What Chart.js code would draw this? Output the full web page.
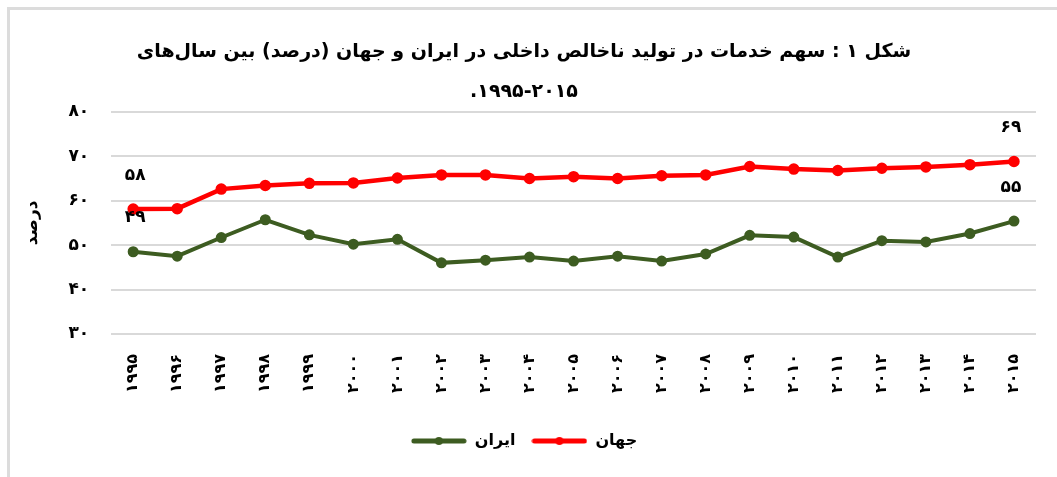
<!DOCTYPE html>
<html>
<head>
<meta charset="utf-8">
<script src="https://cdn.jsdelivr.net/npm/chart.js@4.4.1/dist/chart.umd.min.js"></script>
<style>
  html, body { margin: 0; padding: 0; background: #fff; }
  #wrap { width: 1057px; height: 477px; }
</style>
</head>
<body>
<div id="wrap"><canvas id="lineChart" dir="rtl"></canvas></div>
<script>
// years on the x axis (Persian digits)
const years = ['۱۹۹۵', '۱۹۹۶', '۱۹۹۷', '۱۹۹۸', '۱۹۹۹', '۲۰۰۰', '۲۰۰۱', '۲۰۰۲', '۲۰۰۳', '۲۰۰۴',
    '۲۰۰۵', '۲۰۰۶', '۲۰۰۷', '۲۰۰۸', '۲۰۰۹', '۲۰۱۰', '۲۰۱۱', '۲۰۱۲', '۲۰۱۳', '۲۰۱۴', '۲۰۱۵'];

// share of services in GDP (%)
const iranValues = [48.5, 47.5, 51.7, 55.7, 52.3, 50.2, 51.3, 46.0, 46.6, 47.3,
    46.4, 47.5, 46.4, 48.0, 52.2, 51.8, 47.3, 51.0, 50.7, 52.6, 55.4];
const worldValues = [58.1, 58.2, 62.6, 63.4, 63.9, 64.0, 65.1, 65.8, 65.8, 65.0,
    65.4, 65.0, 65.6, 65.8, 67.7, 67.1, 66.8, 67.3, 67.6, 68.1, 68.8];

// value labels shown only at first and last year
const iranLabels = ['۴۹', '۵۵'];
const worldLabels = ['۵۸', '۶۹'];

const yTicks = [30, 40, 50, 60, 70, 80];

const titleLines = ['شکل ۱ : سهم خدمات در تولید ناخالص داخلی در ایران و جهان (درصد) بین سال‌های', '۱۹۹۵-۲۰۱۵.'];

const FONT = "'DejaVu Sans', sans-serif";

function toFa(n) {
    return String(n).replace(/\d/g, d => '۰۱۲۳۴۵۶۷۸۹'[d]);
}

// small picture of a line with a dot, used as legend symbol
function legendIcon(color) {
    const c = document.createElement('canvas');
    c.width = 56;
    c.height = 10;
    const g = c.getContext('2d');
    g.strokeStyle = color;
    g.lineWidth = 5;
    g.lineCap = 'round';
    g.beginPath();
    g.moveTo(3, 5);
    g.lineTo(53, 5);
    g.stroke();
    g.fillStyle = color;
    g.beginPath();
    g.arc(28, 5, 4, 0, Math.PI * 2);
    g.fill();
    return c;
}

// frame lines at the top and left of the picture
const framePlugin = {
    id: 'frame',
    beforeDraw(chart) {
        const ctx = chart.ctx;
        ctx.save();
        ctx.fillStyle = '#fff';
        ctx.fillRect(0, 0, chart.width, chart.height);
        ctx.strokeStyle = '#dcdcdc';
        ctx.lineWidth = 3;
        ctx.beginPath();
        ctx.moveTo(8.5, chart.height);
        ctx.lineTo(8.5, 8.5);
        ctx.lineTo(chart.width, 8.5);
        ctx.stroke();
        ctx.restore();
    }
};

// labels above the first and last point of each line
const endLabels = {
    id: 'endLabels',
    afterDatasetsDraw(chart) {
        const ctx = chart.ctx;
        ctx.save();
        ctx.font = 'bold 17px ' + FONT;
        ctx.fillStyle = '#000';
        ctx.textAlign = 'center';
        ctx.textBaseline = 'middle';
        chart.data.datasets.forEach((ds, i) => {
            const meta = chart.getDatasetMeta(i);
            const pts = [meta.data[0], meta.data[meta.data.length - 1]];
            pts.forEach((p, k) => {
                ctx.fillText(ds.endLabels[k], p.x + (k === 0 ? 2 : -3), p.y - 34);
            });
        });
        ctx.restore();
    }
};

const ctx = document.getElementById('lineChart').getContext('2d');

const lineChart = new Chart(ctx, {
    type: 'line',
    data: {
        labels: years,
        datasets: [{
            label: 'ایران',
            data: iranValues,
            endLabels: iranLabels,
            borderColor: '#3d5c21',
            backgroundColor: '#3d5c21',
            borderWidth: 4,
            pointRadius: 3.5,
            pointHoverRadius: 3.5,
            tension: 0
        }, {
            label: 'جهان',
            data: worldValues,
            endLabels: worldLabels,
            borderColor: '#ff0000',
            backgroundColor: '#ff0000',
            borderWidth: 4.5,
            pointRadius: 3.5,
            pointHoverRadius: 3.5,
            tension: 0
        }]
    },
    plugins: [framePlugin, endLabels],
    options: {
        responsive: true,
        maintainAspectRatio: false,
        animation: false,
        layout: {
            padding: { left: 12, right: 21, top: 32, bottom: 18 }
        },
        plugins: {
            title: {
                display: true,
                text: titleLines,
                color: '#000',
                font: { family: FONT, size: 19, weight: 'bold', lineHeight: 2.1 },
                padding: { top: 0, bottom: 0 }
            },
            legend: {
                position: 'bottom',
                labels: {
                    color: '#000',
                    font: { family: FONT, size: 16, weight: 'bold' },
                    usePointStyle: true,
                    pointStyleWidth: 56,
                    padding: 16,
                    generateLabels(chart) {
                        return chart.data.datasets.map((ds, i) => ({
                            text: ds.label,
                            pointStyle: legendIcon(ds.borderColor),
                            fillStyle: ds.borderColor,
                            strokeStyle: ds.borderColor,
                            lineWidth: 0,
                            datasetIndex: i,
                            hidden: false
                        }));
                    }
                }
            },
            tooltip: { enabled: false }
        },
        scales: {
            x: {
                offset: true,
                grid: { display: false },
                border: { display: false },
                ticks: {
                    color: '#000',
                    font: { family: FONT, size: 16, weight: 'bold' },
                    minRotation: 90,
                    maxRotation: 90,
                    autoSkip: false,
                    padding: 12
                },
                afterFit(axis) {
                    axis.height += 12;
                }
            },
            y: {
                min: 30,
                max: 80,
                afterBuildTicks(axis) {
                    axis.ticks = yTicks.map(v => ({ value: v }));
                },
                grid: { color: '#d9d9d9', lineWidth: 2, drawTicks: false },
                border: { display: false },
                ticks: {
                    color: '#000',
                    font: { family: FONT, size: 17, weight: 'bold' },
                    padding: 22,
                    callback: v => toFa(v)
                },
                title: {
                    display: true,
                    text: 'درصد',
                    color: '#000',
                    font: { family: FONT, size: 17, weight: 'bold' },
                    padding: { top: 10, bottom: 4 }
                }
            }
        }
    }
});
</script>
</body>
</html>
